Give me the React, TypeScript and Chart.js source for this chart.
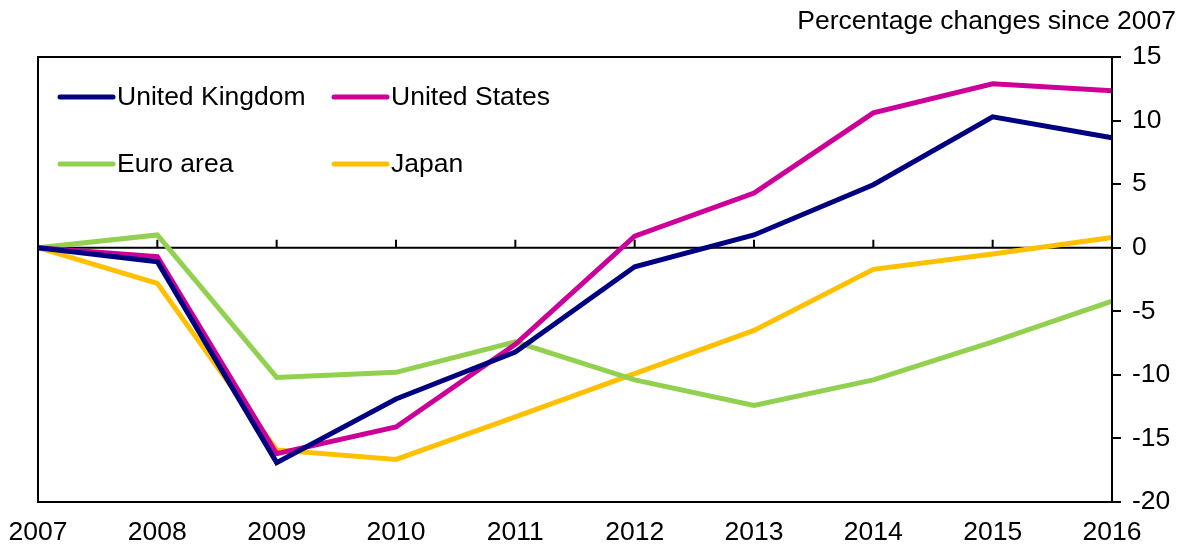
import React, { useEffect, useRef } from "react";
import { Chart, registerables } from "chart.js";
Chart.register(...registerables);

const years = ["2007", "2008", "2009", "2010", "2011", "2012", "2013", "2014", "2015", "2016"];
const unitedKingdom = [0, -1.1, -16.9, -11.9, -8.2, -1.5, 1.0, 4.95, 10.3, 8.65];
const unitedStates = [0, -0.7, -16.2, -14.1, -7.6, 0.9, 4.3, 10.6, 12.9, 12.35];
const euroArea = [0, 1.0, -10.2, -9.8, -7.4, -10.4, -12.4, -10.4, -7.4, -4.2];
const japan = [0, -2.8, -15.9, -16.65, -13.3, -9.9, -6.5, -1.7, -0.5, 0.8];
const yTicks = [-20, -15, -10, -5, 0, 5, 10, 15];
const titleText = "Percentage changes since 2007";

const FONT = "'Liberation Sans', Arial, sans-serif";
const FS = 26.5;

const series = [
  { label: "United Kingdom", data: unitedKingdom, color: "#000080" },
  { label: "United States", data: unitedStates, color: "#CC0099" },
  { label: "Euro area", data: euroArea, color: "#92D050" },
  { label: "Japan", data: japan, color: "#FFC000" },
];

const framePlugin = {
  id: "framePlugin",
  beforeDatasetsDraw(chart: any) {
    const { ctx, chartArea } = chart;
    const y = chart.scales.y;
    const x = chart.scales.x;
    const y0 = y.getPixelForValue(0);
    ctx.save();
    ctx.strokeStyle = "#000";
    ctx.lineWidth = 2;
    ctx.beginPath();
    ctx.moveTo(chartArea.left, y0);
    ctx.lineTo(chartArea.right, y0);
    for (let i = 1; i < years.length - 1; i++) {
      const px = x.getPixelForValue(i);
      ctx.moveTo(px, y0);
      ctx.lineTo(px, y0 - 8);
    }
    ctx.stroke();
    ctx.restore();
  },
  afterDraw(chart: any) {
    const { ctx, chartArea } = chart;
    ctx.save();
    ctx.strokeStyle = "#000";
    ctx.lineWidth = 2;
    ctx.strokeRect(chartArea.left, chartArea.top, chartArea.right - chartArea.left, chartArea.bottom - chartArea.top);
    // title
    ctx.fillStyle = "#000";
    ctx.font = `${FS}px ${FONT}`;
    ctx.textAlign = "right";
    ctx.textBaseline = "alphabetic";
    ctx.fillText(titleText, 1176, 29);
    // legend
    const cols = [58, 332];
    const rows = [97, 164];
    series.forEach((s, i) => {
      const lx = cols[i % 2];
      const ly = rows[Math.floor(i / 2)];
      ctx.strokeStyle = s.color;
      ctx.lineWidth = 5;
      ctx.lineCap = "round";
      ctx.beginPath();
      ctx.moveTo(lx + 2, ly);
      ctx.lineTo(lx + 55, ly);
      ctx.stroke();
      ctx.fillStyle = "#000";
      ctx.textAlign = "left";
      ctx.textBaseline = "middle";
      ctx.fillText(s.label, lx + 59, ly + 1);
    });
    ctx.restore();
  },
};

export default function App() {
  const ref = useRef<HTMLCanvasElement>(null);
  useEffect(() => {
    if (!ref.current) return;
    const chart = new Chart(ref.current, {
      type: "line",
      data: {
        labels: years,
        datasets: series.map((s) => ({
          label: s.label,
          data: s.data,
          borderColor: s.color,
          backgroundColor: s.color,
          borderWidth: 5,
          pointRadius: 0,
          tension: 0,
          borderJoinStyle: "miter" as const,
        })),
      },
      options: {
        responsive: false,
        animation: false,
        layout: { padding: { left: 38, top: 57, right: 0, bottom: 0 } },
        plugins: { legend: { display: false }, tooltip: { enabled: false }, title: { display: false } },
        scales: {
          x: {
            type: "category",
            offset: false,
            grid: { display: false, drawTicks: false },
            border: { display: false },
            ticks: {
              color: "#000",
              font: { family: FONT, size: FS },
              maxRotation: 0,
              autoSkip: false,
              padding: 15,
            },
            afterFit: (s: any) => {
              s.height = 47;
              s.paddingLeft = 0;
              s.paddingRight = 0;
            },
          },
          y: {
            position: "right",
            min: -20,
            max: 15,
            afterBuildTicks: (s: any) => {
              s.ticks = yTicks.map((v) => ({ value: v }));
            },
            grid: { drawOnChartArea: false, drawTicks: true, tickLength: 9, color: "#000", lineWidth: 2 },
            border: { display: false },
            ticks: {
              color: "#000",
              font: { family: FONT, size: FS },
              padding: 11,
            },
            afterFit: (s: any) => {
              s.width = 71;
              s.paddingTop = 0;
              s.paddingBottom = 0;
            },
          },
        },
      },
      plugins: [framePlugin],
    });
    return () => chart.destroy();
  }, []);
  return (
    <div style={{ position: "fixed", left: 0, top: 0, width: 1183, height: 549, background: "#fff" }}>
      <canvas ref={ref} width={1183} height={549} style={{ display: "block" }} />
    </div>
  );
}
